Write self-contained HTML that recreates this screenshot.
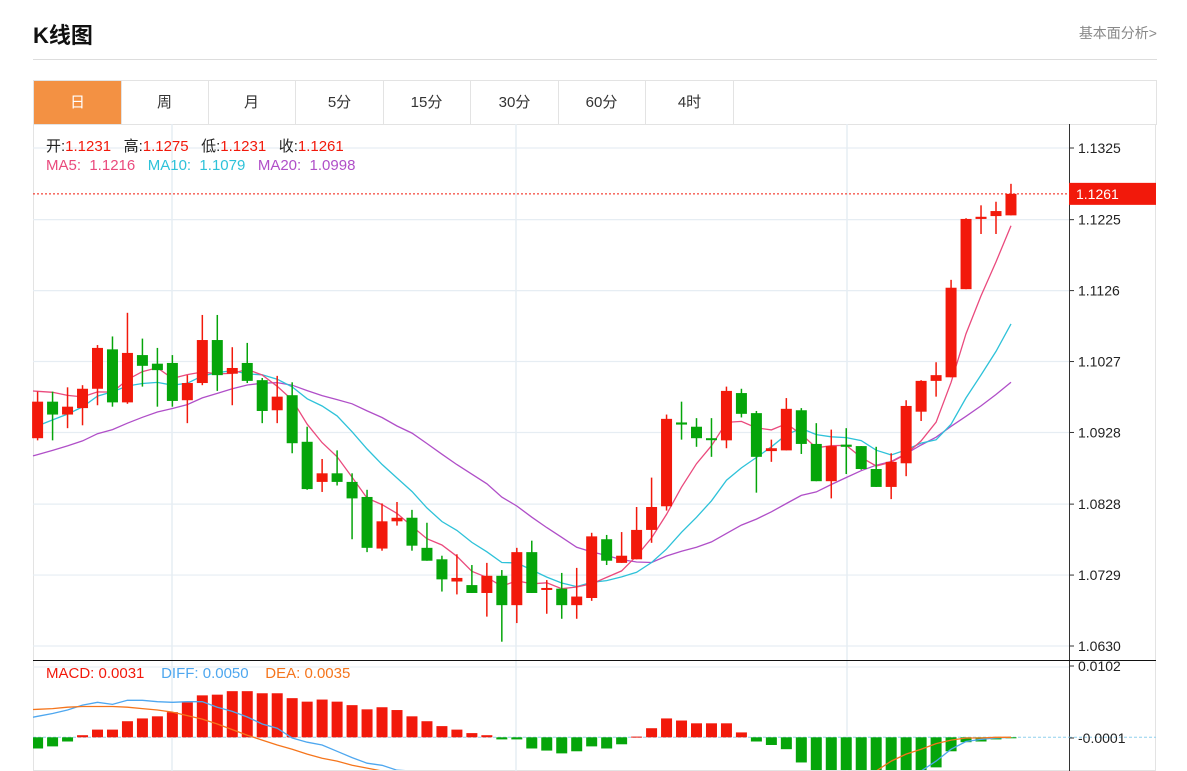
<!DOCTYPE html>
<html><head><meta charset="utf-8">
<style>
html,body{margin:0;width:1187px;height:771px;overflow:hidden;background:#fff;font-family:"Liberation Sans","Noto Sans CJK SC",sans-serif;position:relative}
.title{position:absolute;left:33px;top:18px;font-size:22px;font-weight:bold;color:#111}
.more{position:absolute;right:30px;top:23px;font-size:14px;color:#888}
.hr{position:absolute;left:33px;top:59px;width:1124px;height:1px;background:#ddd}
.tabs{position:absolute;left:33px;top:80px;width:1122px;height:43px;border:1px solid #e3e3e3;border-bottom:1px solid #e3e3e3}
.tab{position:absolute;top:0;height:43px;line-height:43px;text-align:center;font-size:15px;color:#333;border-right:1px solid #e3e3e3;width:87px}
.tab.on{background:#f39143;color:#fff}
</style></head><body>
<div class="title">K线图</div>
<div class="more">基本面分析&gt;</div>
<div class="hr"></div>
<div class="tabs">
<div class="tab on" style="left:0">日</div>
<div class="tab" style="left:87px">周</div>
<div class="tab" style="left:174px">月</div>
<div class="tab" style="left:262px">5分</div>
<div class="tab" style="left:349px">15分</div>
<div class="tab" style="left:437px">30分</div>
<div class="tab" style="left:524px">60分</div>
<div class="tab" style="left:612px">4时</div>
</div>
<svg id="chart" width="1187" height="771" style="position:absolute;left:0;top:0;overflow:hidden"></svg>
<script>
const opens=[1.0920,1.0971,1.0953,1.0962,1.0989,1.1044,1.0970,1.1036,1.1024,1.1025,1.0973,1.0997,1.1057,1.1010,1.1025,1.1001,1.0959,1.0980,1.0915,1.0859,1.0871,1.0859,1.0838,1.0766,1.0804,1.0809,1.0767,1.0751,1.0720,1.0715,1.0704,1.0728,1.0687,1.0761,1.0710,1.0710,1.0687,1.0697,1.0779,1.0746,1.0751,1.0792,1.0825,1.0942,1.0936,1.0920,1.0917,1.0983,1.0955,1.0902,1.0903,1.0959,1.0912,1.0860,1.0911,1.0909,1.0877,1.0852,1.0885,1.0957,1.1000,1.1005,1.1128,1.1226,1.1230,1.1231];
const highs=[1.0985,1.0985,1.0991,1.0994,1.1050,1.1062,1.1095,1.1059,1.1046,1.1036,1.1008,1.1092,1.1092,1.1047,1.1053,1.1004,1.1007,1.0998,1.0936,1.0891,1.0903,1.0871,1.0848,1.0829,1.0831,1.0820,1.0802,1.0756,1.0758,1.0743,1.0746,1.0736,1.0767,1.0777,1.0722,1.0732,1.0739,1.0788,1.0785,1.0789,1.0824,1.0865,1.0953,1.0971,1.0948,1.0948,1.0992,1.0989,1.0958,1.0918,1.0976,1.0962,1.0941,1.0932,1.0934,1.0909,1.0908,1.0899,1.0973,1.1001,1.1026,1.1141,1.1227,1.1245,1.1250,1.1275];
const lows=[1.0917,1.0917,1.0934,1.0938,1.0966,1.0964,1.0968,1.0992,1.0964,1.0964,1.0941,1.0994,1.0986,1.0966,1.0997,1.0941,1.0941,1.0899,1.0848,1.0845,1.0854,1.0779,1.0761,1.0763,1.0798,1.0763,1.0749,1.0706,1.0702,1.0704,1.0671,1.0636,1.0662,1.0704,1.0675,1.0668,1.0668,1.0693,1.0743,1.0746,1.0751,1.0774,1.0819,1.0918,1.0908,1.0894,1.0906,1.0949,1.0844,1.0887,1.0903,1.0898,1.0860,1.0836,1.0870,1.0876,1.0852,1.0835,1.0867,1.0944,1.0978,1.1005,1.1128,1.1205,1.1205,1.1231];
const closes=[1.0971,1.0953,1.0964,1.0989,1.1046,1.0970,1.1039,1.1021,1.1015,1.0972,1.0997,1.1057,1.1008,1.1018,1.1000,1.0958,1.0978,1.0913,1.0849,1.0871,1.0859,1.0836,1.0767,1.0804,1.0809,1.0770,1.0749,1.0723,1.0725,1.0704,1.0728,1.0687,1.0761,1.0704,1.0711,1.0687,1.0699,1.0783,1.0749,1.0756,1.0792,1.0824,1.0947,1.0939,1.0920,1.0918,1.0986,1.0954,1.0894,1.0906,1.0961,1.0912,1.0860,1.0909,1.0908,1.0877,1.0852,1.0887,1.0965,1.1000,1.1008,1.1130,1.1226,1.1229,1.1237,1.1261];
const priorCloses=[1.0835,1.0840,1.0848,1.0845,1.0855,1.0860,1.0858,1.0868,1.0872,1.0889,1.0870,1.0882,1.0890,1.0895,1.0908,1.0960,1.0985,1.1000,1.1011];
const priceTicks=[1.1325,1.1225,1.1126,1.1027,1.0928,1.0828,1.0729,1.0630];
// MACD panel, units of 0.0001
const macdBars=[-16,-13,-6,3,11,11,23,27,30,36,50,60,61,66,66,63,63,56,51,54,51,46,40,43,39,30,23,16,11,6,3,-3,-3,-16,-19,-23,-20,-13,-16,-10,1,13,27,24,20,20,20,7,-6,-11,-17,-36,-57,-64,-69,-69,-64,-60,-54,-50,-43,-20,-7,-6,-3,-1];
const diffLine=[30,34,39,46,50,47,53,53,51,50,51,51,43,37,29,19,13,-1,-7,-11,-20,-29,-37,-40,-47,-54,-61,-67,-73,-77,-82,-84,-87,-90,-93,-96,-97,-97,-96,-94,-92,-86,-79,-73,-70,-72,-79,-86,-94,-103,-109,-112,-109,-103,-99,-94,-83,-74,-64,-53,-34,-17,-6,-3,-1,0];
const deaLine=[40,41,43,44,44,44,43,41,39,36,31,26,19,11,3,-4,-11,-17,-24,-30,-34,-40,-44,-49,-53,-57,-60,-64,-67,-70,-73,-74,-76,-77,-77,-79,-79,-79,-77,-77,-76,-74,-74,-74,-76,-77,-79,-80,-82,-82,-80,-77,-74,-70,-64,-59,-53,-34,-24,-17,-9,-4,-1,-1,0,0];
const macdTicks=[102,-1];

const NS="http://www.w3.org/2000/svg";
const svg=document.getElementById('chart');
function mk(tag,attrs,parent){const e=document.createElementNS(NS,tag);for(const k in attrs)e.setAttribute(k,attrs[k]);(parent||svg).appendChild(e);return e;}
const X=i=>37.6+i*14.975;
const Y=p=>148+(1.1325-p)*498/0.0695;
const MZ=737.3, MY=v=>Math.min(771,MZ-v*0.699);
const L=33,R=1069,RR=1156;
const RED="#f2190b",GREEN="#05a50a";

let e=mk('rect',{x:33.5,y:124.5,width:1122,height:646,fill:'none',stroke:'#e3e3e3'});

priceTicks.forEach(t=>{let g=mk('line',{x1:L,x2:R,y1:Y(t),y2:Y(t),stroke:'#e6edf3','stroke-width':1.2});

let tk=mk('line',{x1:R,x2:R+5,y1:Y(t),y2:Y(t),stroke:'#333'});
let tx=mk('text',{x:R+9,y:Y(t)+5,'font-size':14,fill:'#222','font-family':'Liberation Sans,sans-serif'});tx.textContent=t.toFixed(4);
});
[172,516,847].forEach(x=>{let g=mk('line',{x1:x,x2:x,y1:124,y2:771,stroke:'#e6edf3','stroke-width':1.5});
});
e=mk('line',{x1:R+0.5,x2:R+0.5,y1:124,y2:771,stroke:'#333'});
e=mk('line',{x1:L,x2:RR,y1:660.5,y2:660.5,stroke:'#111'});
e=mk('line',{x1:L,x2:R,y1:667,y2:667,stroke:'#e6edf3'});

const all=priorCloses.concat(closes);
function ma(n){return closes.map((c,i)=>{let s=0;const j=i+priorCloses.length;for(let k=j-n+1;k<=j;k++)s+=all[k];return s/n;});}
[[20,'#b04fc8'],[10,'#2ec2d9'],[5,'#ea4a7d']].forEach(([n,c])=>{const m=ma(n);
let d=m.map((v,i)=>(i?'L':'M')+X(i).toFixed(1)+' '+Y(v).toFixed(1)).join(' ');
d='M'+L+' '+Y(m[0]+(m[0]-m[1])*0.3).toFixed(1)+' L'+d.slice(1);
let p=mk('path',{d:d,fill:'none',stroke:c,'stroke-width':1.3});});

closes.forEach((c,i)=>{const o=opens[i],up=c>=o,col=up?RED:GREEN;const x=X(i);
let w=mk('line',{x1:x,x2:x,y1:Y(highs[i]),y2:Y(lows[i]),stroke:col,'stroke-width':1.5});

const t=Y(Math.max(o,c)),b=Y(Math.min(o,c));
let r=mk('rect',{x:x-5.5,y:t,width:11,height:Math.max(b-t,2),fill:col});
});

const last=closes[closes.length-1];
e=mk('line',{x1:L,x2:R,y1:Y(last),y2:Y(last),stroke:RED,'stroke-dasharray':'2,2'});
e=mk('rect',{x:R,y:Y(last)-11,width:RR-R,height:22,fill:'#f2190b'});
e=mk('text',{x:R+7,y:Y(last)+5,'font-size':14,fill:'#fff'});e.textContent=last.toFixed(4);

const clip=mk('clipPath',{id:'mc'});mk('rect',{x:L,y:661,width:R-L,height:109},clip);
const mg=mk('g',{'clip-path':'url(#mc)'});
e=mk('line',{x1:L,x2:R,y1:MZ,y2:MZ,stroke:'#8fd0ee','stroke-dasharray':'3,2'},mg);
e=mk('line',{x1:R,x2:RR,y1:MZ,y2:MZ,stroke:'#8fd0ee','stroke-dasharray':'3,2'});
macdBars.forEach((v,i)=>{const y0=MY(Math.max(v,0)),y1=MY(Math.min(v,0));
let r=mk('rect',{x:X(i)-5.5,y:y0,width:11,height:Math.max(y1-y0,1),fill:v>=0?RED:GREEN},mg);
});
[[diffLine,'#4ea7ef','diff-line'],[deaLine,'#f5751c','dea-line']].forEach(([arr,c,nm])=>{
let d=arr.map((v,i)=>(i?'L':'M')+X(i).toFixed(1)+' '+MY(v).toFixed(1)).join(' ');
d='M'+L+' '+MY(arr[0]-(arr[1]-arr[0])*0.3).toFixed(1)+' L'+d.slice(1);
let p=mk('path',{d:d,fill:'none',stroke:c,'stroke-width':1.3},mg);});
macdTicks.forEach(t=>{const y=MY(t);
let tk=mk('line',{x1:R,x2:R+5,y1:y,y2:y,stroke:'#333'});
let tx=mk('text',{x:R+9,y:y+5,'font-size':14,fill:'#222'});tx.textContent=(t/10000).toFixed(4);
});
</script>
<div style="position:absolute;left:46px;top:135px;font-size:15px;color:#222;white-space:pre">开:<span style="color:#f2190b">1.1231</span>   高:<span style="color:#f2190b">1.1275</span>   低:<span style="color:#f2190b">1.1231</span>   收:<span style="color:#f2190b">1.1261</span></div>
<div style="position:absolute;left:46px;top:157px;font-size:15px;white-space:pre"><span style="color:#ea4a7d">MA5:  1.1216</span>   <span style="color:#2ec2d9">MA10:  1.1079</span>   <span style="color:#b04fc8">MA20:  1.0998</span></div>
<div style="position:absolute;left:46px;top:665px;font-size:15px;white-space:pre"><span style="color:#f2190b">MACD: 0.0031</span>    <span style="color:#4ea7ef">DIFF: 0.0050</span>    <span style="color:#f5751c">DEA: 0.0035</span></div>
</body></html>
